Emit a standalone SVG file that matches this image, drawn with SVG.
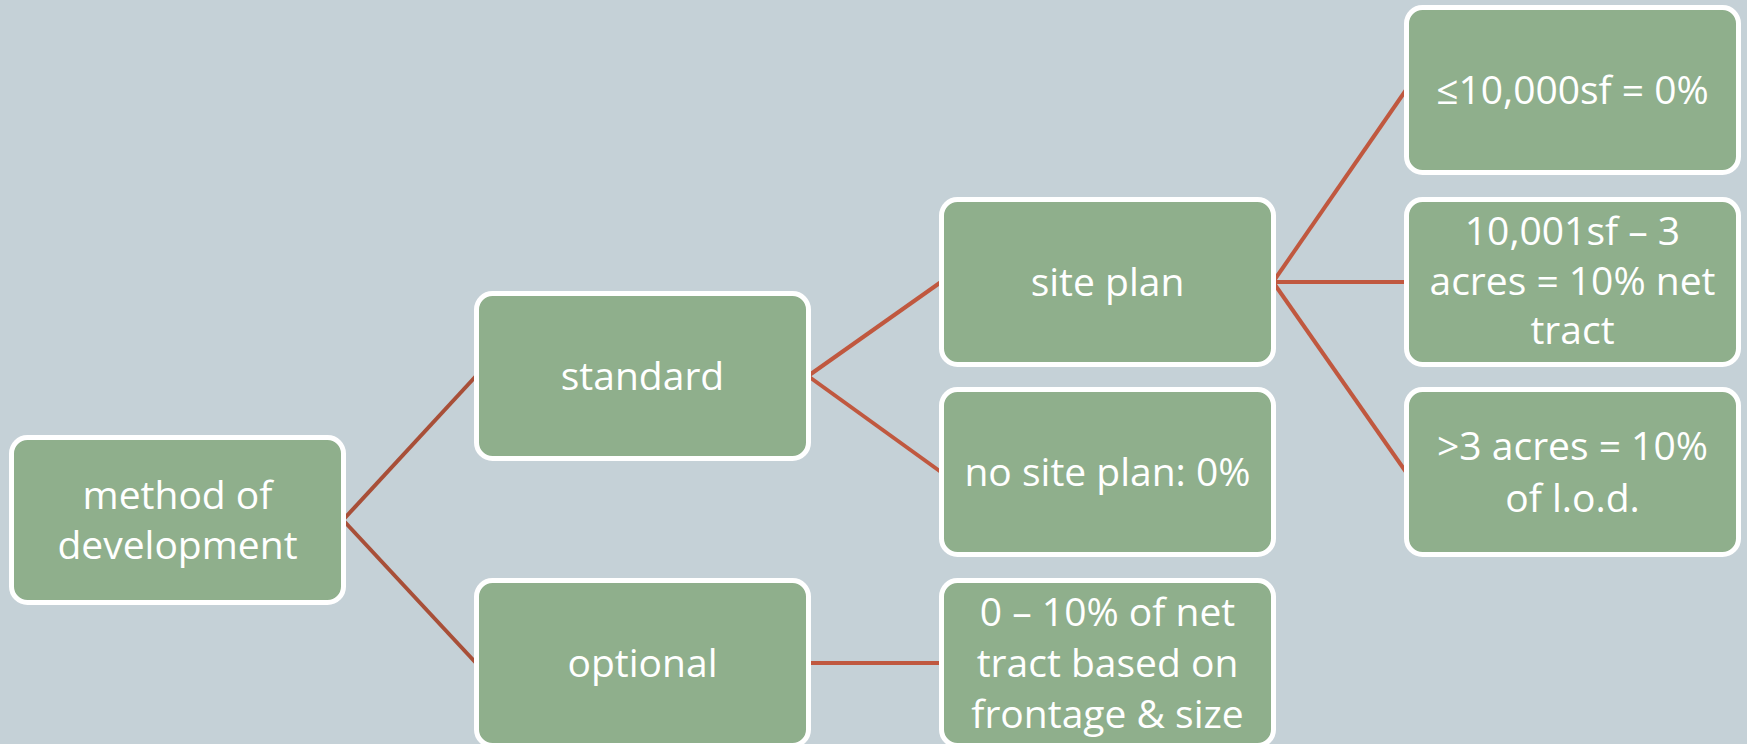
<svg xmlns="http://www.w3.org/2000/svg" width="1747" height="744" viewBox="0 0 1747 744">
  <style>
    .box { fill: #8faf8c; stroke: #ffffff; stroke-width: 5; }
    .lbl { fill: #ffffff; font-family: "Open Sans", "Noto Sans", "DejaVu Sans", sans-serif; font-size: 39px; text-anchor: middle; }
    .link { fill: none; stroke-width: 4; stroke-linecap: butt; }
    .dark { stroke: #a84f38; }
    .warm { stroke: #c0583f; }
  </style>
  <rect x="0" y="0" width="1747" height="744" fill="#c5d1d7"/>

  <!-- connectors -->
  <g id="connectors">
    <path class="link dark" d="M343,520 L476,376"/>
    <path class="link dark" d="M343,520 L476,663"/>
    <path class="link warm" d="M808,376 L941,282"/>
    <path class="link warm" d="M808,376 L941,472"/>
    <path class="link warm" d="M808,663 L941,663"/>
    <path class="link warm" d="M1273,282 L1406,90"/>
    <path class="link warm" d="M1273,282 L1406,282"/>
    <path class="link warm" d="M1273,282 L1406,472"/>
  </g>

  <!-- level 1 -->
  <g id="method">
    <rect class="box" x="11.5" y="437.5" width="332" height="165" rx="16"/>
    <text class="lbl" x="177.5" y="509">method of</text>
    <text class="lbl" x="177.5" y="559">development</text>
  </g>

  <!-- level 2 -->
  <g id="standard">
    <rect class="box" x="476.5" y="293.5" width="332" height="165" rx="16"/>
    <text class="lbl" x="642.5" y="390">standard</text>
  </g>
  <g id="optional">
    <rect class="box" x="476.5" y="580.5" width="332" height="165" rx="16"/>
    <text class="lbl" x="642.5" y="677">optional</text>
  </g>

  <!-- level 3 -->
  <g id="site-plan">
    <rect class="box" x="941.5" y="199.5" width="332" height="165" rx="16"/>
    <text class="lbl" x="1107.5" y="296">site plan</text>
  </g>
  <g id="no-site-plan">
    <rect class="box" x="941.5" y="389.5" width="332" height="165" rx="16"/>
    <text class="lbl" x="1107.5" y="486">no site plan: 0%</text>
  </g>
  <g id="optional-range">
    <rect class="box" x="941.5" y="580.5" width="332" height="165" rx="16"/>
    <text class="lbl" x="1107.5" y="626">0 – 10% of net</text>
    <text class="lbl" x="1107.5" y="677">tract based on</text>
    <text class="lbl" x="1107.5" y="728">frontage &amp; size</text>
  </g>

  <!-- level 4 -->
  <g id="small-lot">
    <rect class="box" x="1406.5" y="7.5" width="332" height="165" rx="16"/>
    <text class="lbl" x="1572.5" y="104">≤10,000sf = 0%</text>
  </g>
  <g id="mid-lot">
    <rect class="box" x="1406.5" y="199.5" width="332" height="165" rx="16"/>
    <text class="lbl" x="1572.5" y="245">10,001sf – 3</text>
    <text class="lbl" x="1572.5" y="295">acres = 10% net</text>
    <text class="lbl" x="1572.5" y="344">tract</text>
  </g>
  <g id="large-lot">
    <rect class="box" x="1406.5" y="389.5" width="332" height="165" rx="16"/>
    <text class="lbl" x="1572.5" y="460">&gt;3 acres = 10%</text>
    <text class="lbl" x="1572.5" y="512">of l.o.d.</text>
  </g>
</svg>
